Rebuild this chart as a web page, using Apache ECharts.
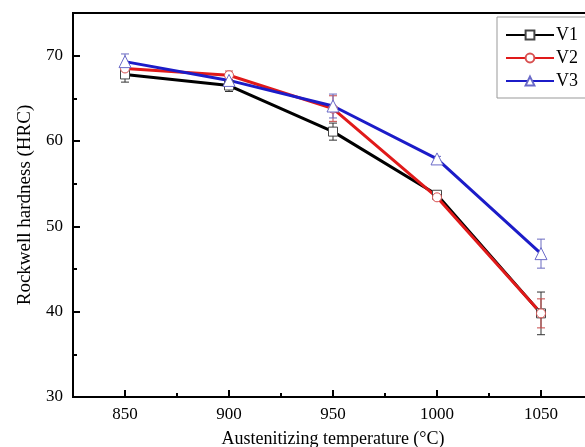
<!DOCTYPE html>
<html>
<head>
<meta charset="utf-8">
<script src="https://cdn.jsdelivr.net/npm/echarts@6/dist/echarts.min.js"></script>
<style>
  html, body { margin: 0; padding: 0; background: #fff; }
  #content { width: 585px; height: 447px; }
</style>
</head>
<body>
<div id="content"></div>
<script>
// temperatures (°C)
var temps = [850, 900, 950, 1000, 1050];
// hardness values (HRC)
var v1 = [67.8, 66.5, 61.1, 53.7, 39.8];
var v2 = [68.5, 67.7, 63.8, 53.4, 39.8];
var v3 = [69.3, 67.1, 64.1, 57.9, 46.8];
// error bar half widths
var v1Err = [0.9, 0.7, 1.0, 0.3, 2.5];
var v2Err = [0.5, 0.5, 1.5, 0.3, 1.7];
var v3Err = [0.9, 0.8, 1.4, 0.3, 1.7];

var xMajor = [850, 900, 950, 1000, 1050];
var xMinor = [875, 925, 975, 1025];
var yMajor = [30, 40, 50, 60, 70];
var yMinor = [35, 45, 55, 65];

var fontName = "Liberation Serif";

function pairs(vals) {
    var out = [];
    for (var i = 0; i < temps.length; i++) out.push([temps[i], vals[i]]);
    return out;
}
function errData(vals, errs) {
    var out = [];
    for (var i = 0; i < temps.length; i++) out.push([temps[i], vals[i] - errs[i], vals[i] + errs[i]]);
    return out;
}

// 误差棒
function errSeries(name, vals, errs, color) {
    return {
        type: "custom",
        name: name + "err",
        data: errData(vals, errs),
        z: 1,
        silent: true,
        renderItem: function(params, api) {
            var lo = api.coord([api.value(0), api.value(1)]);
            var hi = api.coord([api.value(0), api.value(2)]);
            var w = 4;
            var st = { stroke: color, lineWidth: 1, fill: null };
            return {
                type: "group",
                children: [
                    { type: "line", shape: { x1: lo[0], y1: lo[1], x2: hi[0], y2: hi[1] }, style: st },
                    { type: "line", shape: { x1: lo[0] - w, y1: lo[1], x2: lo[0] + w, y2: lo[1] }, style: st },
                    { type: "line", shape: { x1: hi[0] - w, y1: hi[1], x2: hi[0] + w, y2: hi[1] }, style: st }
                ]
            };
        }
    };
}

function lineSeries(name, vals, color, symbol, markColor) {
    return {
        type: "line",
        name: name,
        data: pairs(vals),
        symbol: symbol,
        symbolSize: symbol == "triangle" ? 12 : 9,
        showAllSymbol: true,
        z: 2,
        lineStyle: { color: color, width: 3 },
        itemStyle: { color: "#fff", borderColor: markColor, borderWidth: 1 }
    };
}

var myChart = echarts.init(document.getElementById("content"));
myChart.setOption({
    animation: false,
    backgroundColor: "#fff",
    grid: {
        left: 73, top: 13, width: 520, height: 384,
        outerBoundsMode: "none",
        containLabel: false,
        show: true, borderColor: "#000", borderWidth: 2
    },
    legend: {
        left: 497, top: 17,
        orient: "vertical",
        data: ["V1", "V2", "V3"],
        itemWidth: 48, itemHeight: 11, itemGap: 5,
        padding: [9, 20, 8, 8],
        borderColor: "#999", borderWidth: 1,
        textStyle: { fontFamily: fontName, fontSize: 18, color: "#000", padding: [0, 0, 0, -3] }
    },
    xAxis: [{
        type: "value", min: 825, max: 1075,
        name: "Austenitizing temperature (°C)",
        nameLocation: "middle", nameGap: 33,
        nameTextStyle: { fontFamily: fontName, fontSize: 18, color: "#000" },
        axisLine: { lineStyle: { color: "#000", width: 2 } },
        axisTick: { inside: true, length: 7, lineStyle: { width: 2 }, customValues: xMajor },
        axisLabel: {
            fontFamily: fontName, fontSize: 17, color: "#000", margin: 9, customValues: xMajor,
            formatter: function(v) { return String(v); }
        },
        splitLine: { show: false }
    }, {
        type: "value", min: 825, max: 1075, position: "bottom",
        axisLine: { show: false },
        axisTick: { inside: true, length: 4, lineStyle: { color: "#000", width: 2 }, customValues: xMinor },
        axisLabel: { show: false },
        splitLine: { show: false }
    }],
    yAxis: [{
        type: "value", min: 30, max: 75,
        name: "Rockwell hardness (HRC)",
        nameLocation: "middle", nameGap: 38,
        nameTextStyle: { fontFamily: fontName, fontSize: 19, color: "#000" },
        axisLine: { lineStyle: { color: "#000", width: 2 } },
        axisTick: { inside: true, length: 7, lineStyle: { width: 2 }, customValues: yMajor },
        axisLabel: { fontFamily: fontName, fontSize: 17, color: "#000", margin: 10, customValues: yMajor },
        splitLine: { show: false }
    }, {
        type: "value", min: 30, max: 75, position: "left",
        axisLine: { show: false },
        axisTick: { inside: true, length: 4, lineStyle: { color: "#000", width: 2 }, customValues: yMinor },
        axisLabel: { show: false },
        splitLine: { show: false }
    }],
    series: [
        errSeries("V1", v1, v1Err, "#333"),
        errSeries("V2", v2, v2Err, "#c84848"),
        errSeries("V3", v3, v3Err, "#6a6ac0"),
        lineSeries("V1", v1, "#000", "rect", "#444"),
        lineSeries("V2", v2, "#e01a1a", "circle", "#d85050"),
        lineSeries("V3", v3, "#1c1cc8", "triangle", "#6a6ac8")
    ]
});
</script>
</body>
</html>
